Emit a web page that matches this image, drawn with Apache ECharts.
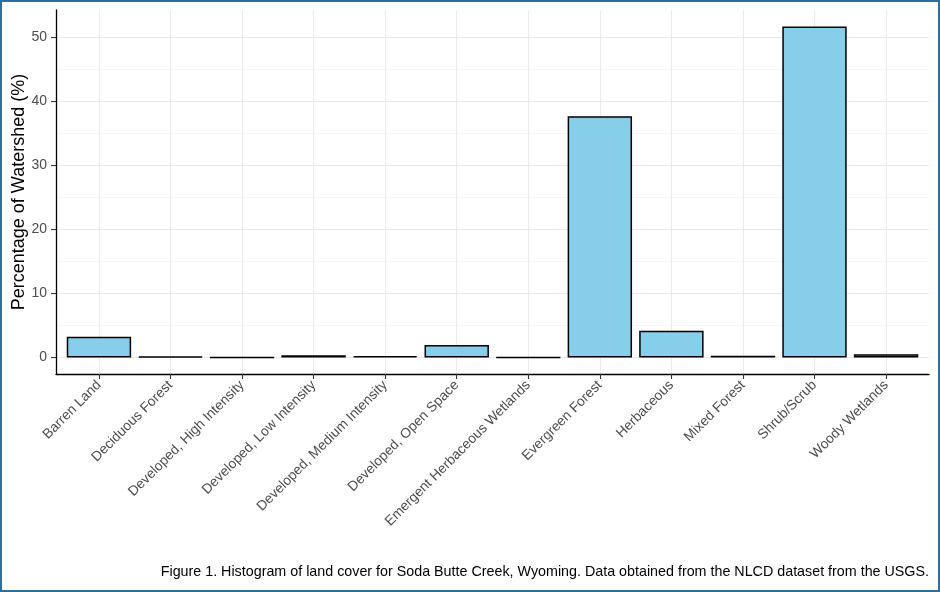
<!DOCTYPE html>
<html>
<head>
<meta charset="utf-8">
<script src="https://cdn.jsdelivr.net/npm/echarts@6/dist/echarts.min.js"></script>
<style>
html,body{margin:0;padding:0;background:#fff;}
#wrap{position:relative;width:940px;height:592px;}
#chart{position:absolute;left:0;top:0;width:940px;height:592px;}
#frame{position:absolute;left:0;top:0;width:940px;height:592px;box-sizing:border-box;border:2px solid #2f6f9e;pointer-events:none;}
</style>
</head>
<body>
<div id="wrap"><div id="chart"></div><div id="frame"></div></div>
<script>
const categories = ['Barren Land','Deciduous Forest','Developed, High Intensity','Developed, Low Intensity','Developed, Medium Intensity','Developed, Open Space','Emergent Herbaceous Wetlands','Evergreen Forest','Herbaceous','Mixed Forest','Shrub/Scrub','Woody Wetlands'];
const percentages = [3.24, 0.15, 0.02, 0.35, 0.2, 1.95, 0.02, 37.7, 4.18, 0.25, 51.7, 0.5];
const yTicks = [0, 10, 20, 30, 40, 50];
const yMinorTicks = [5, 15, 25, 35, 45];
const yTitle = 'Percentage of Watershed (%)';
const caption = 'Figure 1. Histogram of land cover for Soda Butte Creek, Wyoming. Data obtained from the NLCD dataset from the USGS.';

const dataMax = Math.max(...percentages);
const pad = dataMax * 0.05;
const yMin = -pad, yMax = dataMax + pad;

const plotLeft = 56, plotRight = 929, plotTop = 10, plotBottom = 374;
const W = 940, H = 592;
const unit = (plotRight - plotLeft) / (categories.length + 0.2);
const inset = unit * 0.1;
const font = 'Liberation Sans, Arial, Helvetica, sans-serif';

const chart = echarts.init(document.getElementById('chart'), null, {renderer: 'canvas'});
chart.setOption({
  animation: false,
  backgroundColor: '#fff',
  textStyle: {fontFamily: font},
  grid: [
    {left: plotLeft, right: W - plotRight, top: plotTop, bottom: H - plotBottom, containLabel: false, outerBoundsMode: 'none'},
    {left: plotLeft + inset, right: W - plotRight + inset, top: plotTop, bottom: H - plotBottom, containLabel: false, outerBoundsMode: 'none'}
  ],
  xAxis: [
    {type: 'value', gridIndex: 0, min: 0, max: 1,
     axisLine: {show: true, onZero: false, lineStyle: {color: '#000', width: 1.3}},
     axisTick: {show: false}, axisLabel: {show: false}, splitLine: {show: false}},
    {type: 'category', gridIndex: 1, data: categories, boundaryGap: true,
     axisLine: {show: false, onZero: false},
     axisTick: {show: true, alignWithLabel: true, length: 5, lineStyle: {color: '#333', width: 1.1}},
     axisLabel: {rotate: 45, interval: 0, margin: 9, color: '#4d4d4d', fontSize: 13.8, fontFamily: font},
     splitLine: {show: true, alignWithLabel: true, lineStyle: {color: '#ebebeb', width: 1.1}}}
  ],
  yAxis: [
    {type: 'value', gridIndex: 0, min: yMin, max: yMax,
     axisLine: {show: true, onZero: false, lineStyle: {color: '#000', width: 1.3}},
     axisTick: {show: true, customValues: yTicks, length: 5, lineStyle: {color: '#333', width: 1.1}},
     axisLabel: {customValues: yTicks, margin: 9, color: '#4d4d4d', fontSize: 14, fontFamily: font},
     splitLine: {show: true, lineStyle: {color: '#ebebeb', width: 1.1}}},
    {type: 'value', gridIndex: 0, min: yMin, max: yMax,
     axisLine: {show: false},
     axisTick: {show: false, customValues: yMinorTicks},
     axisLabel: {show: false, customValues: yMinorTicks},
     splitLine: {show: true, lineStyle: {color: '#f3f3f3', width: 0.8}}},
    {type: 'value', gridIndex: 1, min: yMin, max: yMax, show: false,
     splitLine: {show: false}}
  ],
  series: [{
    type: 'bar', xAxisIndex: 1, yAxisIndex: 2,
    data: percentages,
    barCategoryGap: '10%',
    itemStyle: {color: '#87ceeb', borderColor: '#000', borderWidth: 1.5},
    z: 3
  }],
  graphic: [
    {type: 'text', x: 19.5, y: (plotTop + plotBottom) / 2, rotation: Math.PI / 2,
     style: {text: yTitle, fill: '#000', fontSize: 18, fontFamily: font, textAlign: 'center', textVerticalAlign: 'middle'}},
    {type: 'text', right: W - plotRight, top: 565,
     style: {text: caption, fill: '#000', fontSize: 14.3, fontFamily: font, textAlign: 'right'}}
  ]
});
</script>
</body>
</html>
